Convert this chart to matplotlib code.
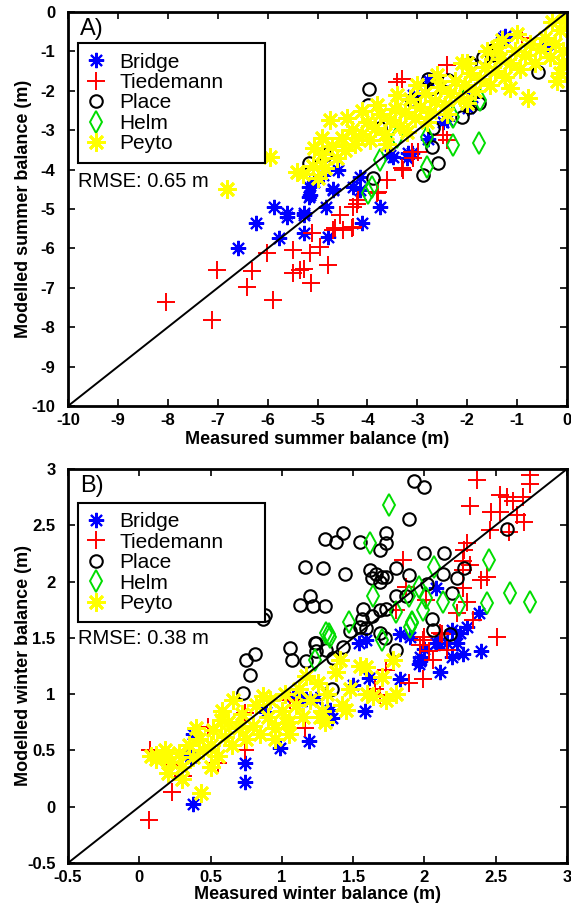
import matplotlib
matplotlib.use("Agg")
import matplotlib.pyplot as plt
from matplotlib.lines import Line2D

plt.rcParams['font.family'] = ['Liberation Sans', 'DejaVu Sans']

glaciers = ["Bridge", "Tiedemann", "Place", "Helm", "Peyto"]

# ---- summer balance (m): measured, modelled ----
bridge_s_meas = [-6.59, -6.23, -5.87, -5.62, -5.77, -5.27, -5.27, -4.82, -4.78, -5.15, -5.18, -5.08,
                 -4.88, -4.68, -4.58, -4.28, -4.11, -3.75, -3.48, -3.18, -4.15, -3.55, -2.78, -2.41,
                 -1.98, -1.28, -0.41, -3.21, -3.08, -2.78, -2.48, -1.91, -5.62, -5.28, -4.68, -5.18,
                 -4.15, -3.11, -1.24]
bridge_s_mod = [-5.98, -5.36, -4.96, -5.19, -5.74, -5.15, -5.62, -4.94, -5.70, -4.64, -4.43, -4.31,
                -4.14, -4.48, -4.01, -4.43, -5.36, -4.96, -3.67, -3.59, -4.18, -3.63, -3.21, -2.74,
                -2.44, -0.67, -0.80, -3.71, -2.11, -1.73, -2.78, -2.15, -5.11, -5.11, -4.52, -4.69,
                -4.52, -3.59, -0.60]

tied_s_meas = [-8.04, -7.12, -7.02, -6.42, -6.32, -5.89, -6.02, -5.50, -5.49, -5.35, -5.14, -5.15,
               -4.95, -4.78, -5.12, -4.68, -4.48, -4.28, -4.55, -4.28, -4.18, -3.78, -3.61, -3.31,
               -3.08, -3.11, -5.28, -4.65, -4.31, -3.41, -3.30, -2.41, -2.48, -2.40, -2.98, -3.28,
               -0.91, -3.81, -4.21]
tied_s_mod = [-7.35, -7.82, -6.55, -6.97, -6.57, -7.31, -6.11, -6.04, -6.62, -6.55, -6.89, -6.11,
              -5.96, -6.42, -5.60, -5.53, -5.53, -5.45, -5.15, -4.94, -4.77, -4.56, -4.26, -3.97,
              -3.71, -3.55, -6.51, -5.49, -5.49, -1.77, -1.70, -1.35, -3.12, -3.25, -3.55, -4.01,
              -0.67, -4.60, -4.86]

place_s_meas = [-3.96, -3.98, -2.78, -2.38, -1.68, -1.51, -1.94, -0.58, -2.11, -2.68, -2.71, -2.58,
                -2.88, -3.88, -5.18, -4.85, -3.75, -1.94, -3.11, -1.48, -2.68, -1.77]
place_s_mod = [-1.96, -2.36, -1.71, -1.73, -1.13, -1.09, -1.30, -1.52, -2.66, -2.95, -3.42, -3.84,
               -4.14, -4.22, -3.84, -3.63, -2.95, -2.40, -2.23, -0.96, -1.94, -2.32]

helm_s_meas = [-2.28, -1.76, -2.81, -3.98, -2.81, -2.28, -2.01, -1.74, -3.41, -3.75, -3.90]
helm_s_mod = [-3.38, -3.33, -3.93, -4.60, -3.17, -2.66, -2.11, -2.23, -3.17, -3.76, -4.45]

peyto_s_meas = [-6.82, -5.95, -5.42, -5.08, -4.75, -0.78, -1.14, -0.14,
                -5.30, -5.10, -4.90, -4.85, -4.70, -4.60, -4.50, -4.45, -4.30, -4.25, -4.10, -4.00,
                -3.95, -3.85, -3.75, -3.65, -3.55, -3.45, -3.35, -3.25, -3.15, -3.05, -2.95, -2.85,
                -2.75, -2.65, -2.55, -2.45, -2.35, -2.25, -2.15, -2.05, -1.95, -1.85, -1.75, -1.65,
                -1.55, -1.45, -1.35, -1.25, -1.15, -1.05, -0.95, -0.85, -0.75, -0.65, -0.55, -0.45,
                -0.35, -0.25, -0.15, -0.08, -0.05, -0.30, -0.10, -0.20, -1.30, -1.00, -1.60, -2.10,
                -2.60, -3.00, -3.40, -3.80, -4.10, -4.40, -3.60, -3.20, -2.80, -2.40, -2.00, -4.90,
                -5.00, -1.41, -2.01]
peyto_s_mod = [-4.48, -3.67, -4.05, -3.46, -2.74, -2.19, -1.94, -1.56,
               -4.10, -3.90, -3.60, -3.95, -3.40, -3.70, -3.20, -3.50, -3.00, -3.35, -3.10, -2.80,
               -3.25, -2.95, -2.60, -3.10, -2.75, -2.45, -2.90, -2.55, -2.20, -2.70, -2.40, -2.05,
               -2.55, -2.25, -1.90, -2.35, -2.05, -1.75, -2.15, -1.85, -1.55, -2.00, -1.70, -1.40,
               -1.85, -1.50, -1.20, -1.65, -1.30, -1.00, -1.45, -1.10, -0.80, -1.30, -0.95, -0.65,
               -1.15, -0.80, -0.45, -1.00, -0.20, -0.25, -1.30, -1.75, -0.70, -0.55, -1.00, -1.30,
               -1.60, -1.85, -2.10, -2.35, -2.50, -2.70, -3.35, -3.05, -2.80, -2.60, -2.30, -3.20,
               -4.20, -0.88, -1.30]

# ---- winter balance (m): measured, modelled ----
bridge_w_meas = [2.08, 2.38, 2.19, 2.25, 2.30, 2.16, 2.23, 2.08, 2.40, 2.27, 2.19, 1.83, 1.90, 1.59,
                 1.54, 1.97, 1.96, 2.10, 2.11, 1.97, 1.50, 1.61, 1.83, 1.58, 1.35, 1.19, 0.99, 0.74,
                 0.74, 0.38, 0.30, 0.33, 0.38, 1.24, 1.14, 0.89, 1.34, 1.08, 1.17, 0.36, 2.00]
bridge_w_mod = [1.94, 1.72, 1.57, 1.54, 1.60, 1.45, 1.45, 1.45, 1.38, 1.36, 1.33, 1.53, 1.51, 1.48,
                1.45, 1.33, 1.27, 1.45, 1.20, 1.29, 1.08, 1.14, 1.13, 0.85, 0.79, 0.58, 0.52, 0.39,
                0.22, 0.02, 0.25, 0.46, 0.65, 0.96, 0.96, 0.84, 0.86, 0.98, 0.96, 0.44, 1.40]

tied_w_meas = [2.37, 2.74, 2.74, 2.32, 2.53, 2.58, 2.62, 2.69, 2.47, 2.53, 2.65, 2.70, 2.46, 2.59,
               2.30, 2.28, 1.85, 2.27, 2.32, 2.27, 2.44, 2.40, 1.87, 2.27, 2.01, 2.30, 2.23, 2.34,
               2.00, 2.12, 1.97, 2.03, 2.06, 2.16, 2.51, 1.89, 0.075, 0.23, 0.07, 0.31, 0.22, 0.48,
               0.55, 0.74, 0.74, 1.06, 1.16, 1.65, 1.69, 1.73, 1.99, 1.99, 2.11, 1.80]
tied_w_mod = [2.90, 2.95, 2.87, 2.67, 2.77, 2.75, 2.72, 2.75, 2.62, 2.62, 2.59, 2.53, 2.46, 2.44,
              2.34, 2.28, 2.19, 2.18, 2.15, 2.10, 2.04, 2.01, 1.95, 1.94, 1.84, 1.82, 1.72, 1.66,
              1.51, 1.53, 1.44, 1.38, 1.30, 1.39, 1.51, 1.10, 0.50, 0.13, -0.12, 0.27, 0.37, 0.71,
              0.39, 0.83, 0.50, 0.95, 0.70, 1.05, 0.99, 1.21, 1.13, 1.48, 1.54, 1.75]

place_w_meas = [1.93, 2.00, 1.89, 1.30, 1.38, 1.43, 1.55, 1.69, 1.73, 1.73, 2.00, 2.14, 2.28, 2.58,
                1.16, 1.29, 1.44, 1.62, 1.66, 1.70, 1.73, 1.80, 1.63, 1.69, 1.89, 2.02, 2.13, 2.23,
                2.19, 1.20, 1.22, 1.30, 1.13, 1.57, 1.56, 1.63, 1.69, 1.73, 1.80, 1.87, 2.05, 2.06,
                2.18, 1.69, 1.72, 1.80, 1.55, 1.59, 1.24, 1.24, 1.43, 1.48, 1.17, 1.36, 0.75, 0.81,
                0.78, 0.73, 1.06, 1.07, 1.23, 1.31, 1.35, 0.87, 0.88]
place_w_mod = [2.89, 2.84, 2.56, 2.38, 2.35, 2.43, 2.35, 2.28, 2.34, 2.43, 2.25, 2.25, 2.12, 2.47,
               2.13, 2.12, 2.07, 2.10, 2.07, 2.04, 2.04, 2.12, 2.03, 2.00, 2.06, 1.98, 2.07, 2.03,
               1.90, 1.87, 1.78, 1.78, 1.79, 1.76, 1.67, 1.69, 1.75, 1.76, 1.87, 1.87, 1.67, 1.57,
               1.53, 1.54, 1.50, 1.39, 1.60, 1.59, 1.45, 1.38, 1.42, 1.56, 1.29, 1.32, 1.30, 1.36,
               1.17, 1.01, 1.41, 1.30, 1.45, 1.39, 1.05, 1.67, 1.70]

helm_w_meas = [1.75, 1.62, 2.45, 2.07, 2.60, 2.74, 2.44, 2.24, 2.13, 2.01, 1.96, 1.89, 1.99, 1.91,
               1.90, 1.64, 1.80, 1.47, 1.70, 1.33, 1.34, 1.23, 1.31, 1.91]
helm_w_mod = [2.68, 2.34, 2.19, 2.13, 1.90, 1.82, 1.81, 1.79, 1.82, 1.85, 1.95, 1.87, 1.75, 1.64,
              1.60, 1.87, 1.73, 1.64, 1.48, 1.53, 1.51, 1.30, 1.54, 1.63]

peyto_w_meas = [0.08, 0.12, 0.18, 0.22, 0.28, 0.30, 0.35, 0.38, 0.42, 0.45, 0.50, 0.52, 0.55, 0.60,
                0.62, 0.65, 0.70, 0.72, 0.75, 0.80, 0.82, 0.85, 0.90, 0.92, 0.95, 1.00, 1.02, 1.05,
                1.10, 1.12, 1.15, 1.20, 1.25, 1.28, 1.32, 1.38, 1.42, 1.48, 1.55, 1.60, 1.70, 1.78,
                1.80, 0.43, 0.30, 0.66, 0.87, 1.17, 1.41, 1.59, 0.20, 0.50, 0.58, 0.95, 1.05, 1.30,
                0.40, 1.03, 1.27, 1.45, 1.73, 1.64, 0.57, 0.17, 0.12]
peyto_w_mod = [0.45, 0.42, 0.50, 0.40, 0.48, 0.35, 0.55, 0.44, 0.60, 0.50, 0.55, 0.68, 0.45, 0.62,
               0.75, 0.55, 0.70, 0.82, 0.60, 0.72, 0.90, 0.65, 0.80, 0.95, 0.70, 0.85, 1.00, 0.75,
               0.90, 1.05, 0.80, 0.95, 1.10, 0.85, 1.00, 1.20, 0.90, 1.05, 1.25, 1.00, 1.15, 1.30,
               1.00, 0.12, 0.25, 0.95, 0.98, 1.16, 1.30, 1.24, 0.30, 0.35, 0.85, 0.60, 0.65, 0.75,
               0.70, 0.74, 0.80, 0.86, 0.95, 0.98, 0.77, 0.44, 0.46]

rmse_summer = 0.65
rmse_winter = 0.38

styles = {
    "Bridge":    dict(marker=(8, 2, 0), color="#0000ff", mfc="none", ms=11, mew=1.5),
    "Tiedemann": dict(marker="+", color="#ff0000", mfc="none", ms=13, mew=1.4),
    "Place":     dict(marker="o", color="black", mfc="none", ms=9, mew=1.5),
    "Helm":      dict(marker="d", color="#00dd00", mfc="none", ms=11, mew=1.4),
    "Peyto":     dict(marker=(8, 2, 0), color="#ffff00", mfc="none", ms=13, mew=2.0),
}

fig = plt.figure(figsize=(5.71, 9.11), dpi=100)
ax1 = fig.add_axes([0.1191, 0.5543, 0.8739, 0.4325])
ax2 = fig.add_axes([0.1191, 0.0527, 0.8739, 0.4325])


def panel(ax, data, lim, ticks, tag, rmse, xlab, ylab, xlab_y, leg_top):
    for name, (xm, ym) in zip(glaciers, data):
        ax.plot(xm, ym, linestyle="none", label=name, **styles[name])
    ax.plot(lim, lim, color="black", lw=1.4, zorder=5)
    ax.set_xlim(lim)
    ax.set_ylim(lim)
    ax.set_xticks(ticks)
    ax.set_yticks(ticks)
    ax.set_xticklabels([f"{t:g}" for t in ticks], fontweight="bold", fontsize=12)
    ax.set_yticklabels([f"{t:g}" for t in ticks], fontweight="bold", fontsize=12)
    ax.tick_params(direction="in", top=True, right=True, length=5, width=1.2)
    ax.tick_params(axis="y", pad=9)
    ax.tick_params(axis="x", pad=5)
    for sp in ax.spines.values():
        sp.set_linewidth(2)
    ax.set_xlabel(xlab, fontweight="bold", fontsize=13)
    ax.set_ylabel(ylab, fontweight="bold", fontsize=13)
    ax.xaxis.set_label_coords(0.5, xlab_y)
    ax.yaxis.set_label_coords(-0.072, 0.5)

    # legend box stretched to a fixed width, entries kept on the left
    handles = [Line2D([], [], linestyle="none", **styles[n]) for n in glaciers]
    leg = ax.legend(handles, glaciers, loc="upper left",
                    bbox_to_anchor=(0.02, leg_top - 0.4, 0.375, 0.4), mode="expand",
                    borderaxespad=0, fontsize=15, frameon=True, fancybox=False,
                    edgecolor="black", framealpha=1, numpoints=1, labelspacing=0.07,
                    handlelength=0.85, handletextpad=0.68, borderpad=0.45)
    leg.get_frame().set_linewidth(1.5)
    leg.set_zorder(10)

    ax.text(0.024, 0.956, tag, transform=ax.transAxes, fontsize=17, va="center", ha="left")
    ax.text(0.02, 0.571, f"RMSE: {rmse:.2f} m", transform=ax.transAxes, fontsize=14.5,
            va="center", ha="left")


panel(ax1,
      [(bridge_s_meas, bridge_s_mod), (tied_s_meas, tied_s_mod), (place_s_meas, place_s_mod),
       (helm_s_meas, helm_s_mod), (peyto_s_meas, peyto_s_mod)],
      [-10, 0], list(range(-10, 1)), "A)", rmse_summer,
      "Measured summer balance (m)", "Modelled summer balance (m)", -0.063, 0.921)

panel(ax2,
      [(bridge_w_meas, bridge_w_mod), (tied_w_meas, tied_w_mod), (place_w_meas, place_w_mod),
       (helm_w_meas, helm_w_mod), (peyto_w_meas, peyto_w_mod)],
      [-0.5, 3], [-0.5, 0, 0.5, 1, 1.5, 2, 2.5, 3], "B)", rmse_winter,
      "Measured winter balance (m)", "Modelled winter balance (m)", -0.059, 0.914)

fig.savefig("out.png", dpi=100)
